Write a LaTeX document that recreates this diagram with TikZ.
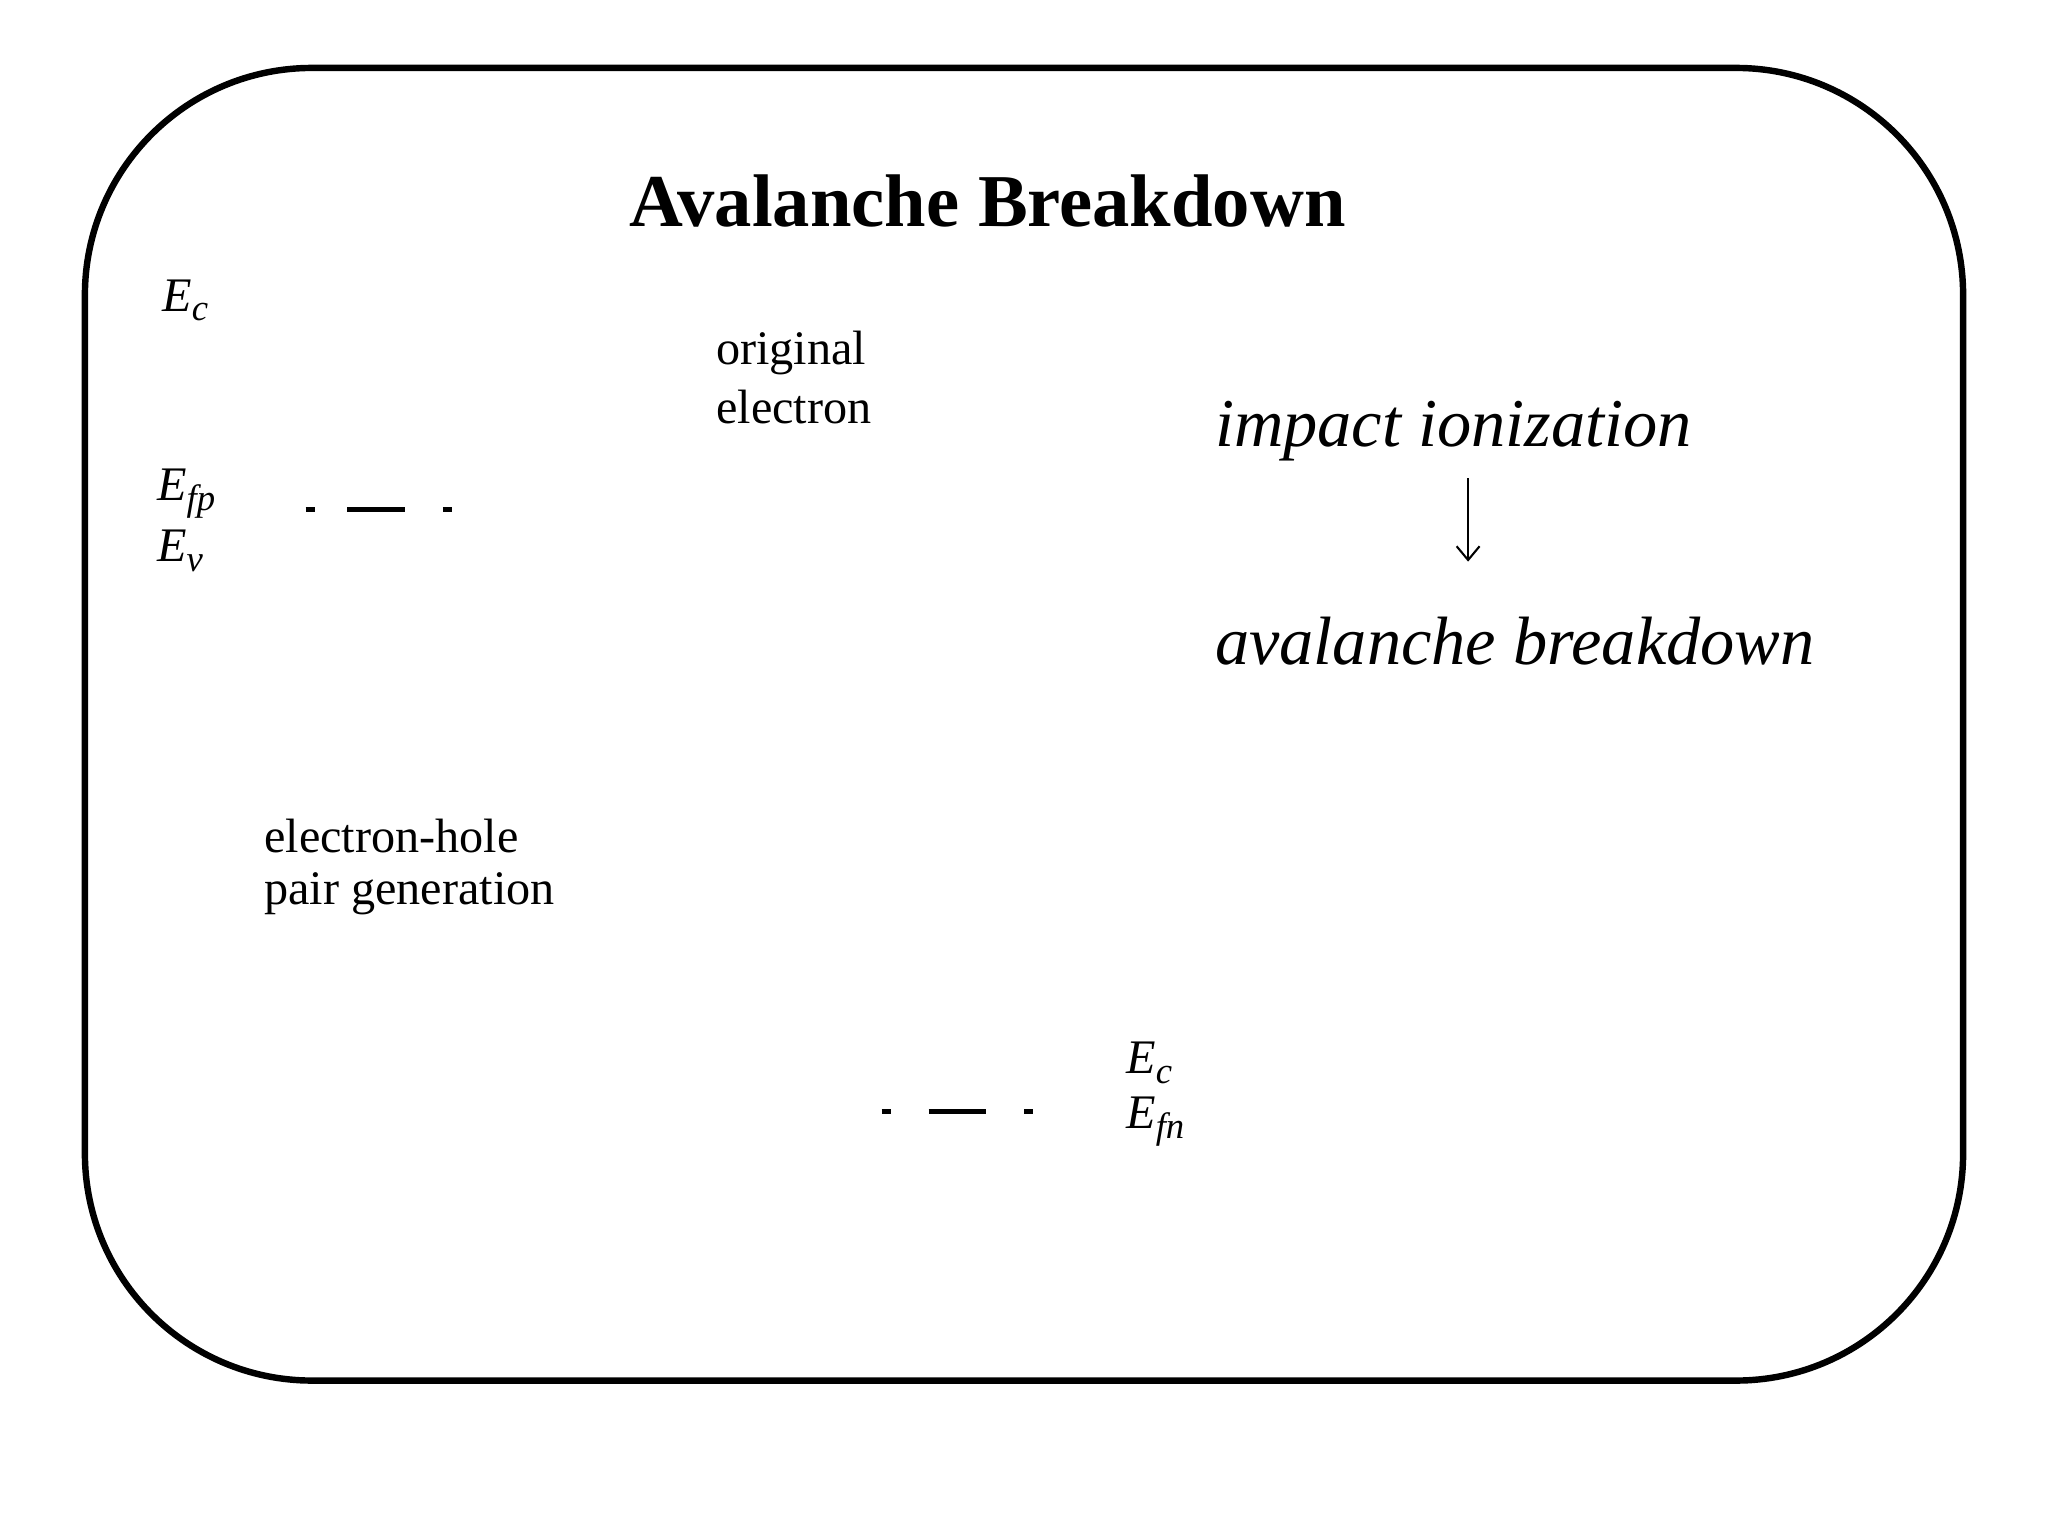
\documentclass[tikz,border=0pt]{standalone}
\usepackage{fontspec}
\setmainfont{Liberation Serif}
\usetikzlibrary{arrows.meta}
\newcommand{\lowsub}[1]{\raisebox{-0.45ex}{\fontsize{16}{18}\selectfont #1}}
\begin{document}
\begin{tikzpicture}[x=0.02cm,y=-0.02cm,
  lbl/.style={anchor=west,inner sep=0pt,font=\fontsize{21}{24}\selectfont},
  en/.style={anchor=west,inner sep=0pt,font=\fontsize{21}{24}\selectfont\itshape},
  big/.style={anchor=west,inner sep=0pt,font=\fontsize{29.8}{34}\selectfont\itshape},
  lev/.style={line width=1.9pt}]
\useasboundingbox (0,0) rectangle (1568,1176);
\draw[line width=2.8pt,rounded corners=165pt*0.6] (65,52) rectangle (1503,1057);
\node[inner sep=0pt,font=\fontsize{32.5}{36}\selectfont\bfseries] (title) at (756,154) {Avalanche Breakdown};
\node[en] (ec1) at (124,230) {E\lowsub{c}};
\node[lbl] (orig) at (548,270) {original};
\node[lbl] (elec) at (548,312) {electron};
\node[en] (efp) at (120,378) {E\lowsub{fp}};
\node[en] (ev) at (120,422) {E\lowsub{v}};
\draw[lev] (234,390) -- (241,390) (266,390) -- (310,390) (339,390) -- (346,390);
\node[big] (imp) at (930,330) {impact ionization};
\node[big] (ava) at (930,491) {avalanche breakdown};
\coordinate (a1) at (1124,366);
\coordinate (a2) at (1124,430);
\draw[line width=0.9pt,-{Straight Barb[length=6pt,width=10pt]}] (a1) -- (a2);
\node[lbl] (eh1) at (202,640) {electron-hole};
\node[lbl] (eh2) at (202,684) {pair generation};
\node[en] (ec2) at (862,814) {E\lowsub{c}};
\node[en] (efn) at (862,859) {E\lowsub{fn}};
\draw[lev] (675,851) -- (682,851) (711,851) -- (755,851) (784,851) -- (791,851);
\end{tikzpicture}
\end{document}
